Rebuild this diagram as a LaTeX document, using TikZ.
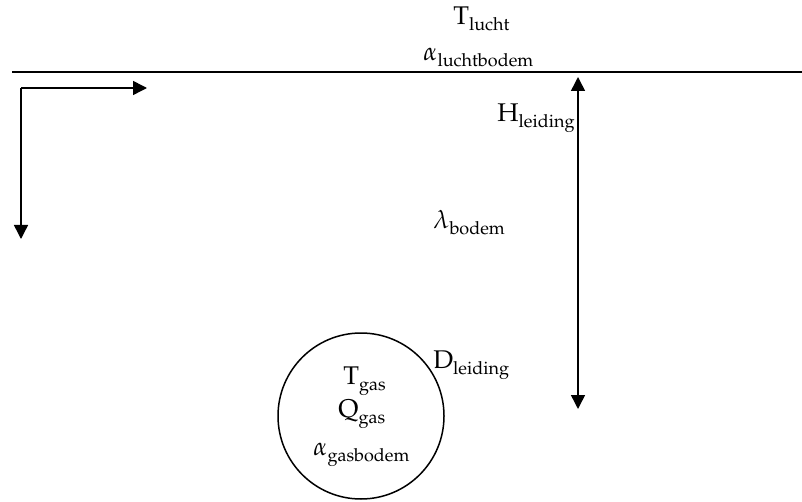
\documentclass[tikz,border=0pt]{standalone}
\usepackage[T1]{fontenc}
\usepackage{mathpazo}
\usepackage{tikz}
\usetikzlibrary{arrows.meta, positioning, calc}
\tikzset{
  lbl/.style={anchor=base west, inner sep=0pt, font=\fontsize{12.8}{15}\selectfont},
  arr/.style={line width=0.75pt, -{Triangle[length=7pt, width=7pt]}},
  twoarr/.style={line width=0.75pt, {Triangle[length=7pt, width=7pt]}-{Triangle[length=7pt, width=7pt]}},
}
\newcommand{\sub}[2]{#1\raisebox{-3pt}{\fontsize{9}{10}\selectfont #2}}
\begin{document}
\begin{tikzpicture}[x=0.5pt, y=-0.5pt]
    \useasboundingbox (0,0) rectangle (802,502);
    % Ground surface
    \coordinate (gl) at (12,72);
    \coordinate (gr) at (802,72);
    \draw[line width=0.75pt] (gl) -- (gr);
    % Axes in the corner
    \coordinate (corner) at (21,88);
    \coordinate (xend) at (147,88);
    \coordinate (yend) at (21,239);
    \draw[arr] (corner) -- (xend);
    \draw[arr] (corner) -- (yend);
    % Depth of the pipe
    \coordinate (htop) at (578,77);
    \coordinate (hbot) at (578,409);
    \draw[twoarr] (htop) -- (hbot);
    % Pipe
    \node[draw, circle, line width=0.75pt, minimum size=83pt, inner sep=0pt] (pipe) at (361,416) {};
    % Labels
    \node[lbl] (tlucht) at (453,25) {\sub{T}{lucht}};
    \node[lbl] (alucht) at (423,61) {\sub{$\alpha$}{luchtbodem}};
    \node[lbl] (hleid) at (497,122) {\sub{H}{leiding}};
    \node[lbl] (lbodem) at (433,228) {\sub{$\lambda$}{bodem}};
    \node[lbl] (dleid) at (433,368) {\sub{D}{leiding}};
    \node[lbl] (tgas) at (343,384) {\sub{T}{gas}};
    \node[lbl] (qgas) at (338,417) {\sub{Q}{gas}};
    \node[lbl] (agas) at (313,455) {\sub{$\alpha$}{gasbodem}};
\end{tikzpicture}
\end{document}
